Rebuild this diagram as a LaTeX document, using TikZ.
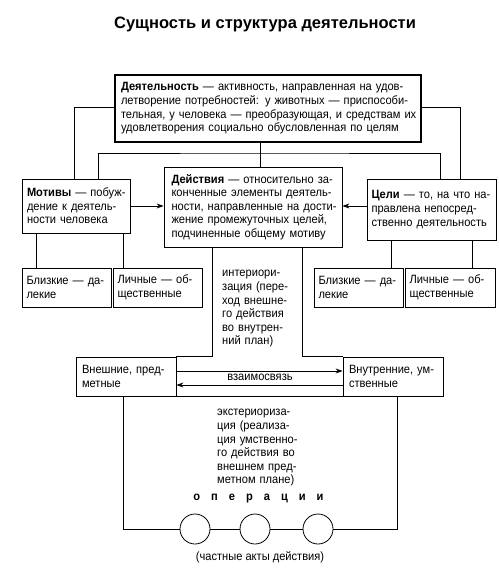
\documentclass[tikz,border=0pt]{standalone}
\usepackage{fontspec}
\setmainfont{Liberation Sans}[FakeStretch=0.925]
\newfontfamily\titlefont{Liberation Sans}
\usetikzlibrary{arrows.meta}
\newcommand{\fs}{\fontsize{12}{13.6}\selectfont}
\newcommand{\jl}[1]{\makebox[\hsize][s]{#1}\\}
\begin{document}
\begin{tikzpicture}[x=1pt,y=-1pt,
  box/.style={draw, line width=0.8pt, rectangle, inner xsep=5pt, inner ysep=0pt, align=left, font=\fs},
  conn/.style={line width=0.8pt},
  arr/.style={line width=0.8pt, -{Stealth[length=7pt,width=5pt]}},
  lbl/.style={inner sep=0pt, font=\fs, align=left},
  op/.style={draw, circle, line width=0.8pt, minimum size=30pt, inner sep=0pt}]
\useasboundingbox (0,0) rectangle (498,569);
\node[font=\titlefont\fontsize{16.5}{19}\selectfont\bfseries, inner sep=0pt, anchor=base] (title) at (265,29) {Сущность и структура деятельности};

\node[box, line width=1.4pt, inner xsep=6pt, minimum width=306pt, minimum height=67pt, text width=294pt] (top) at (268,108.5)
 {\jl{\textbf{Деятельность} — активность, направленная на удов-}\jl{летворение потребностей: у животных — приспособи-}\jl{тельная, у человека — преобразующая, и средствам их}удовлетворения социально обусловленная по целям};

\node[box, inner xsep=5pt, minimum width=108pt, minimum height=54pt, text width=98pt] (mot) at (76,206)
 {\jl{\textbf{Мотивы} — побуж-}\jl{дение к деятель-}ности человека};

\node[box, inner xsep=7.5pt, minimum width=178pt, minimum height=80pt, text width=163pt] (act) at (253,207)
 {\jl{\textbf{Действия} — относительно за-}\jl{конченные элементы деятель-}\jl{ности, направленные на дости-}\jl{жение промежуточных целей,}подчиненные общему мотиву};

\node[box, inner xsep=4.5pt, minimum width=129pt, minimum height=61pt, text width=120pt] (cel) at (431.5,209.5)
 {\jl{\textbf{Цели} — то, на что на-}\jl{правлена непосред-}ственно деятельность};

\node[box, inner xsep=4.5pt, minimum width=89pt, minimum height=39pt, text width=80pt] (bl1) at (66.5,287.5) {Близкие — да-\\лекие};
\node[box, inner xsep=4.5pt, minimum width=89pt, minimum height=39pt, text width=80pt] (li1) at (157.5,287.5) {Личные — об-\\щественные};
\node[box, inner xsep=4.5pt, minimum width=89pt, minimum height=39pt, text width=80pt] (bl2) at (358.5,287.5) {Близкие — да-\\лекие};
\node[box, inner xsep=4.5pt, minimum width=90pt, minimum height=39pt, text width=81pt] (li2) at (450,287.5) {Личные — об-\\щественные};

\node[box, inner xsep=6pt, minimum width=100pt, minimum height=39pt, text width=88pt] (vn) at (126,376.5) {Внешние, пред-\\метные};
\node[box, inner xsep=6pt, minimum width=100pt, minimum height=39pt, text width=88pt] (vt) at (393,376.5) {Внутренние, ум-\\ственные};

\node[lbl, anchor=west, text width=66pt] (intr) at (222,309) {\jl{интериори-}\jl{зация (пере-}\jl{ход внешне-}\jl{го действия}\jl{во внутрен-}ний план)};
\node[lbl] (vz) at (260,377) {взаимосвязь};
\node[lbl, anchor=west, text width=85pt] (extr) at (217,448) {\jl{экстериориза-}\jl{ция (реализа-}\jl{ция умственно-}\jl{го действия во}\jl{внешнем пред-}метном плане)};
\node[lbl, font=\fs\bfseries] (ops) at (258.5,499) {о\hspace{11pt}п\hspace{11pt}е\hspace{11pt}р\hspace{11pt}а\hspace{11pt}ц\hspace{11pt}и\hspace{11pt}и};
\node[op] (o1) at (195,529) {};
\node[op] (o2) at (255,529) {};
\node[op] (o3) at (318,529) {};
\node[lbl] (acts) at (260,557) {(частные акты действия)};

\coordinate (hc) at (260,153);

% connectors from top box
\draw[conn] ([yshift=1.5pt]top.west) -| ([xshift=-2pt]mot.north);
\draw[conn] ([yshift=1.5pt]top.east) -| ([xshift=28.5pt]cel.north);
\draw[conn] ([xshift=-8pt]top.south) -- ([xshift=7pt]act.north);
\draw[conn] ([xshift=22pt]mot.north) |- (hc) -| ([xshift=8.5pt]cel.north);

% arrows to actions
\draw[arr] (mot.east) -- (mot.east -| act.west);
\draw[arr] ([yshift=3.5pt]cel.west) -- ([yshift=3.5pt]cel.west -| act.east);

% sub boxes
\draw[conn] ([xshift=-30.5pt]bl1.north) -- ([xshift=-30.5pt]bl1.north |- mot.south);
\draw[conn] ([xshift=-34.5pt]li1.north) -- ([xshift=-34.5pt]li1.north |- mot.south);
\draw[conn] ([xshift=32.5pt]bl2.north) -- ([xshift=32.5pt]bl2.north |- cel.south);
\draw[conn] ([xshift=22pt]li2.north) -- ([xshift=22pt]li2.north |- cel.south);

% interiorization channel
\draw[conn] ([xshift=-41pt]act.south) |- (vn.north east);
\draw[conn] ([xshift=49pt]act.south) |- (vt.north west);
\draw[conn] (vn.south east) -- (vt.south west);
\draw[arr] ([yshift=5.5pt]vn.east) -- ([yshift=5.5pt]vt.west);
\draw[arr] ([yshift=-8.5pt]vt.west) -- ([yshift=-8.5pt]vn.east);

% operations
\draw[conn] ([xshift=-3pt]vn.south) |- (o1.west);
\draw[conn] (o1.east) -- (o2.west);
\draw[conn] (o2.east) -- (o3.west);
\draw[conn] ([xshift=4pt]vt.south) |- (o3.east);
\end{tikzpicture}
\end{document}
